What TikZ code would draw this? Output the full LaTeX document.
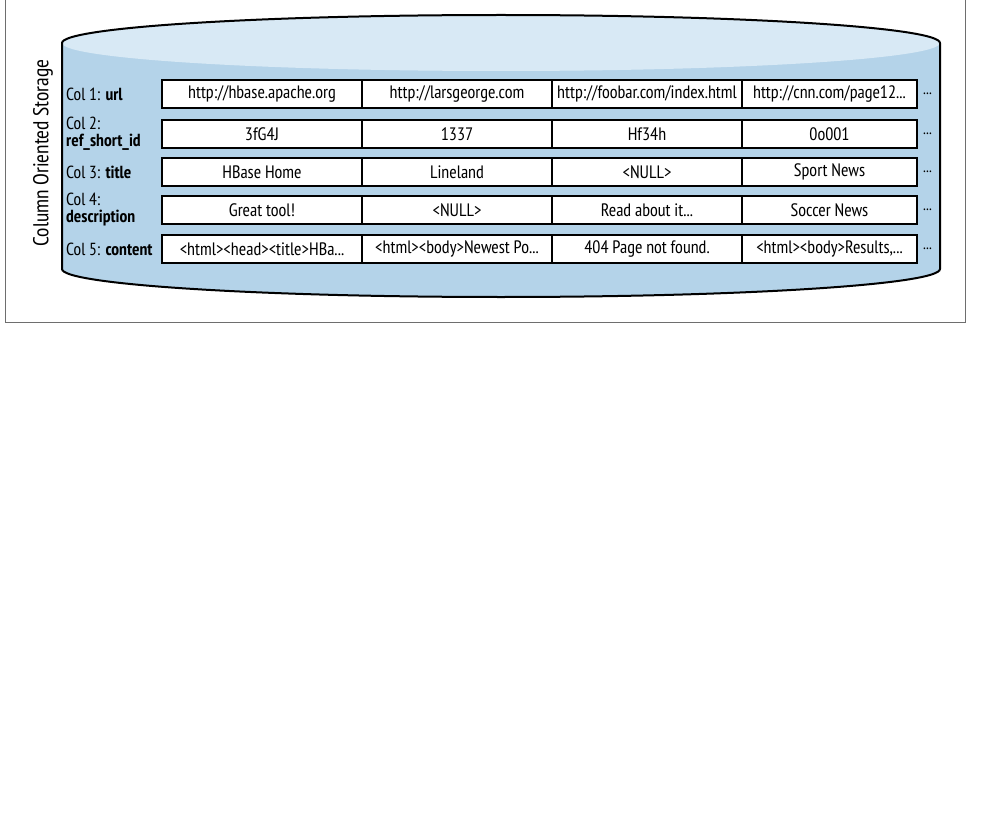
\documentclass[tikz,border=0pt]{standalone}
\usepackage{fontspec}
\setmainfont{PT Sans Narrow}
\usetikzlibrary{positioning}
\definecolor{cylbody}{RGB}{180,211,233}
\definecolor{cyltop}{RGB}{216,233,245}
\definecolor{framegray}{RGB}{110,110,110}
\tikzset{
  cell/.style={draw, line width=1.6pt, fill=white, minimum height=28pt,
    inner sep=0pt, outer sep=0pt, font=\fontsize{18}{20}\selectfont},
  collabel/.style={anchor=west, align=left, inner sep=0pt,
    font=\fontsize{17.5}{17}\selectfont},
  more/.style={inner sep=0pt, font=\fontsize{16}{18}\selectfont},
}

\begin{document}
\begin{tikzpicture}[x=1pt,y=1pt]
\useasboundingbox (0,0) rectangle (996,-832);
% frame
\draw[framegray, line width=0.8pt] (5,0) -- (5,-322) -- (965,-322) -- (965,0);

% cylinder
\fill[cylbody] (62,-43) -- (62,-269)
  arc[start angle=180, end angle=360, x radius=439, y radius=28]
  -- (940,-43) -- cycle;
\fill[cyltop] (501,-43) ellipse[x radius=439, y radius=28];
\draw[line width=2pt] (62,-43)
  arc[start angle=180, end angle=0, x radius=439, y radius=28]
  -- (940,-269)
  arc[start angle=0, end angle=-180, x radius=439, y radius=28]
  -- cycle;

\node[rotate=90, font=\fontsize{21.5}{24}\selectfont] (title) at (43,-153) {Column Oriented Storage};

% row 1
\node[cell, minimum width=200pt] (c11) at (262,-94) {http://hbase.apache.org};
\node[cell, minimum width=190pt, right=0pt of c11] (c12) {http://larsgeorge.com};
\node[cell, minimum width=190pt, right=0pt of c12] (c13) {http://foobar.com/index.html};
\node[cell, minimum width=175pt, right=0pt of c13] (c14) {http://cnn.com/page12...};
% row 2
\node[cell, minimum width=200pt, below=12pt of c11] (c21) {3fG4J};
\node[cell, minimum width=190pt, right=0pt of c21] (c22) {1337};
\node[cell, minimum width=190pt, right=0pt of c22] (c23) {Hf34h};
\node[cell, minimum width=175pt, right=0pt of c23] (c24) {0o001};
% row 3
\node[cell, minimum width=200pt, below=10pt of c21] (c31) {HBase Home};
\node[cell, minimum width=190pt, right=0pt of c31] (c32) {Lineland};
\node[cell, minimum width=190pt, right=0pt of c32] (c33) {<NULL>};
\node[cell, minimum width=175pt, right=0pt of c33] (c34) {Sport News};
% row 4
\node[cell, minimum width=200pt, below=10pt of c31] (c41) {Great tool!};
\node[cell, minimum width=190pt, right=0pt of c41] (c42) {<NULL>};
\node[cell, minimum width=190pt, right=0pt of c42] (c43) {Read about it...};
\node[cell, minimum width=175pt, right=0pt of c43] (c44) {Soccer News};
% row 5
\node[cell, minimum width=200pt, below=11pt of c41] (c51) {<html><head><title>HBa...};
\node[cell, minimum width=190pt, right=0pt of c51] (c52) {<html><body>Newest Po...};
\node[cell, minimum width=190pt, right=0pt of c52] (c53) {404 Page not found.};
\node[cell, minimum width=175pt, right=0pt of c53] (c54) {<html><body>Results,...};

% column labels
\node[collabel] (l1) at ([xshift=-96pt]c11.west) {Col 1: \textbf{url}};
\node[collabel] (l2) at ([xshift=-96pt]c21.west) {Col 2:\\\textbf{ref\_short\_id}};
\node[collabel] (l3) at ([xshift=-96pt]c31.west) {Col 3: \textbf{title}};
\node[collabel] (l4) at ([xshift=-96pt]c41.west) {Col 4:\\\textbf{description}};
\node[collabel] (l5) at ([xshift=-96pt]c51.west) {Col 5: \textbf{content}};

% more columns
\node[more, right=6pt of c14] (d1) {...};
\node[more, right=6pt of c24] (d2) {...};
\node[more, right=6pt of c34] (d3) {...};
\node[more, right=6pt of c44] (d4) {...};
\node[more, right=6pt of c54] (d5) {...};
\end{tikzpicture}
\end{document}
